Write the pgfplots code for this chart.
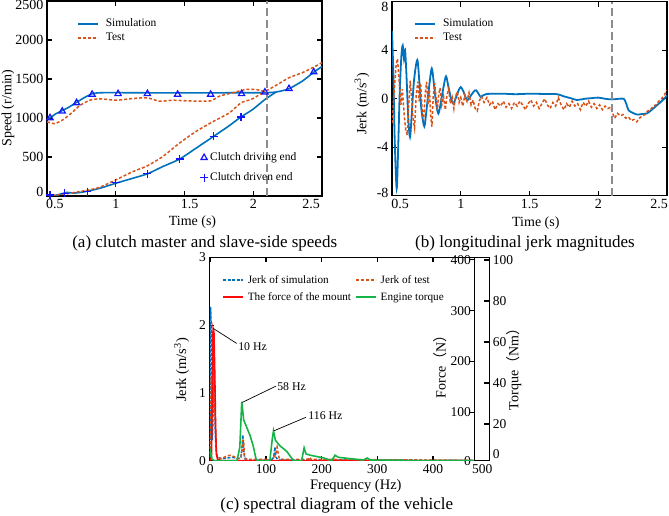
\documentclass[border=0pt]{standalone}
\usepackage{pgfplots}
\pgfplotsset{compat=1.18}
\usepackage{fontspec}
\setmainfont{Liberation Serif}
\newfontfamily\cjk{Noto Sans CJK SC}
\definecolor{mblue}{RGB}{0,114,189}
\definecolor{morange}{RGB}{217,83,25}
\definecolor{mkblue}{RGB}{20,20,255}
\definecolor{mgreen}{RGB}{20,180,70}
\definecolor{mred}{RGB}{250,10,10}
\definecolor{mgray}{RGB}{140,140,140}
\pgfplotsset{
  base/.style={scale only axis, anchor=south west,
    axis line style={line width=1.1pt}, tick style={line width=1.1pt, black},
    major tick length=5pt, tick align=inside,
    /pgf/number format/assume math mode=true,
    ticklabel style={font=\fontsize{14}{16}\selectfont},
    label style={font=\fontsize{14}{16}\selectfont}},
  sim/.style={mblue, line width=1.6pt},
  tst/.style={morange, line width=1.5pt, dash pattern=on 3pt off 2pt},
  lg/.style={legend style={draw=none, fill=none, font=\fontsize{11.5}{13}\selectfont, inner sep=0pt, row sep=1pt, nodes={inner sep=2pt},
      /tikz/every odd column/.append style={column sep=5pt}},
    legend cell align=left,
    legend image code/.code={\draw[##1] (0pt,0pt) -- (20pt,0pt);}},
}
\begin{document}
\begin{tikzpicture}[x=1pt,y=1pt]
\useasboundingbox (0,0) rectangle (669,516);
% ---------------- (a)
\begin{axis}[base, lg, at={(47pt,320pt)}, width=275pt, height=195pt,
  xmin=0.5, xmax=2.5, ymin=0, ymax=2500,
  xtick={0.5,1,1.5,2,2.5},
  xticklabels={\hspace*{16pt}0.5,1,\hspace*{10pt}1.5,2,2.5\hspace*{22pt}},
  ytick={0,500,1000,1500,2000,2500},
  yticklabels={\raisebox{4pt}[\height][\depth]{0},500,1000,1500,2000,\raisebox{-4pt}[\height][\depth]{2500}},
  xlabel={Time (s)}, ylabel={Speed (r/min)},
  xlabel style={at={(axis description cs:0.529,-0.133)}, anchor=center},
  ylabel style={at={(axis description cs:-0.142,0.451)}, anchor=center},
  legend style={at={(axis description cs:0.109,0.919)}, anchor=north west}]
\addplot[sim, smooth, tension=0.4] coordinates {(0.5,985)(0.53,1010)(0.56,1050)(0.611,1095)(0.66,1140)(0.715,1200)(0.77,1260)(0.828,1310)(0.87,1322)(0.95,1325)(1.2,1323)(1.5,1322)(1.8,1323)(2.0,1324)(2.1,1325)(2.165,1332)(2.2,1345)(2.26,1375)(2.357,1473)(2.442,1589)(2.5,1660)};
\addlegendentry{Simulation}
\addplot[tst, smooth, tension=0.4] coordinates {(0.5,950)(0.51,945)(0.558,928)(0.617,979)(0.679,1065)(0.739,1160)(0.812,1228)(0.884,1246)(1.005,1228)(1.126,1250)(1.23,1258)(1.319,1215)(1.415,1228)(1.512,1220)(1.609,1215)(1.693,1220)(1.754,1280)(1.85,1323)(1.947,1366)(2.019,1366)(2.085,1344)(2.165,1418)(2.26,1516)(2.357,1581)(2.442,1654)(2.5,1710)};
\addlegendentry{Test}
\addplot[sim, smooth, tension=0.4, forget plot] coordinates {(0.5,0)(0.55,5)(0.6,25)(0.643,45)(0.7,38)(0.75,48)(0.79,60)(0.884,99)(1.0,163)(1.125,228)(1.23,284)(1.343,378)(1.464,473)(1.585,614)(1.712,765)(1.826,902)(1.911,1014)(1.995,1108)(2.085,1237)(2.165,1332)};
\addplot[tst, smooth, tension=0.4, forget plot] coordinates {(0.5,0)(0.51,2)(0.63,26)(0.792,73)(0.884,112)(1.0,206)(1.125,313)(1.23,387)(1.343,507)(1.464,679)(1.585,829)(1.712,958)(1.826,1065)(1.911,1194)(1.995,1246)(2.085,1344)};
\addplot[mgray, line width=1.3pt, dash pattern=on 8pt off 4pt, forget plot] coordinates {(2.1,0)(2.1,2500)};
\end{axis}
\begin{axis}[base, hide axis, at={(47pt,320pt)}, width=275pt, height=195pt,
  xmin=0.5, xmax=2.5, ymin=0, ymax=2500, clip=false,
  legend style={draw=none, fill=none, font=\fontsize{11.5}{13}\selectfont, inner sep=0pt, row sep=6.5pt, nodes={inner sep=2pt}, at={(axis description cs:0.556,0.232)}, anchor=north west},
  legend cell align=left,
  legend image code/.code={\draw[mark repeat=2,mark phase=2,#1] plot coordinates {(0pt,0pt)(3pt,0pt)(6pt,0pt)};}]
\addplot[only marks, mkblue, mark=triangle, mark size=3.6pt, line width=1.2pt] coordinates {(0.522,1001)(0.611,1086)(0.715,1194)(0.828,1302)(1.017,1310)(1.23,1310)(1.45,1302)(1.69,1302)(1.915,1310)(2.085,1331)(2.26,1375)(2.44,1589)};
\addlegendentry{Clutch driving end}
\addplot[only marks, mkblue, mark=+, mark size=4pt, line width=1.2pt] coordinates {(0.522,13)(0.63,34)(0.792,55)(1.0,172)(1.23,284)(1.464,473)(1.712,765)(1.911,1014)};
\addlegendentry{Clutch driven end}
\end{axis}
% ---------------- (b)
\begin{axis}[base, lg, at={(392pt,320.2pt)}, width=275pt, height=194pt,
  xmin=0.5, xmax=2.5, ymin=-8, ymax=8,
  xtick={0.5,1,1.5,2,2.5},
  xticklabels={\hspace*{16pt}0.5,1,1.5,2,2.5\hspace*{16pt}},
  ytick={-8,-4,0,4,8},
  yticklabels={\raisebox{3pt}[\height][\depth]{-8},-4,0,4,\raisebox{-5.5pt}[\height][\depth]{8}},
  xlabel={Time (s)}, ylabel={Jerk (m/s\textsuperscript{3})},
  xlabel style={at={(axis description cs:0.523,-0.143)}, anchor=center},
  ylabel style={at={(axis description cs:-0.109,0.474)}, anchor=center},
  legend style={at={(axis description cs:0.08,0.923)}, anchor=north west}]
\addplot[sim, line width=1.8pt, smooth, tension=0.5] coordinates {(0.500,5.6)(0.510,2.0)(0.520,-3.5)(0.534,-7.4)(0.545,-4)(0.556,0.5)(0.568,3.5)(0.578,4.4)(0.587,3.3)(0.595,4.0)(0.605,2.0)(0.618,-1.5)(0.631,-3.15)(0.645,-1.0)(0.660,1.5)(0.684,3.2)(0.700,1.2)(0.715,-1.0)(0.735,-2.27)(0.750,-1.0)(0.770,1.0)(0.789,2.5)(0.805,1.2)(0.820,-0.3)(0.837,-1.22)(0.855,-0.3)(0.875,1.0)(0.893,1.85)(0.910,1.0)(0.930,0.0)(0.947,-0.4)(0.965,0.1)(0.985,0.7)(1.000,0.97)(1.020,0.6)(1.035,0.1)(1.049,-0.12)(1.070,0.2)(1.095,0.6)(1.112,0.7)(1.130,0.4)(1.146,0.15)(1.165,0.3)(1.190,0.4)(1.3,0.42)(1.4,0.38)(1.5,0.42)(1.6,0.4)(1.7,0.38)(1.75,0.2)(1.8,0.05)(1.845,-0.1)(1.9,0.0)(1.95,0.05)(2.0,0.1)(2.05,0.0)(2.1,-0.05)(2.15,0.0)(2.185,0.0)(2.2,-0.3)(2.221,-0.95)(2.25,-1.15)(2.282,-1.3)(2.32,-1.25)(2.355,-1.2)(2.4,-0.8)(2.44,-0.4)(2.48,0.0)(2.5,0.3)};
\addlegendentry{Simulation}
\addplot[tst] coordinates {(0.500,-2.0)(0.515,0.5)(0.530,2.8)(0.540,3.3)(0.552,1.5)(0.565,-0.5)(0.575,0.8)(0.590,-1.5)(0.600,-2.6)(0.611,-3.0)(0.622,-0.5)(0.632,1.5)(0.642,0.2)(0.652,-1.5)(0.664,-2.4)(0.676,0.3)(0.688,1.4)(0.698,-0.2)(0.708,1.3)(0.718,-0.8)(0.730,-1.8)(0.742,0.5)(0.752,1.4)(0.762,-0.5)(0.772,0.8)(0.782,-1.5)(0.790,-2.3)(0.800,0.2)(0.810,1.3)(0.820,0.1)(0.830,-0.9)(0.840,0.4)(0.850,0.9)(0.862,-0.5)(0.875,0.2)(0.888,-0.9)(0.900,0.3)(0.912,0.8)(0.925,-0.4)(0.938,0.1)(0.950,-0.8)(0.962,0.2)(0.975,0.6)(0.988,-0.3)(1.000,0.1)(1.015,-0.6)(1.030,0.3)(1.045,-0.2)(1.060,0.5)(1.075,-0.5)(1.090,-0.1)(1.105,-0.8)(1.120,-1.0)(1.135,-0.2)(1.150,0.2)(1.170,-0.3)(1.190,0.1)(1.210,-0.5)(1.230,-0.2)(1.250,-0.9)(1.270,-0.4)(1.290,-0.6)(1.310,-0.2)(1.330,-0.7)(1.350,-0.4)(1.370,-0.8)(1.390,-0.3)(1.410,-0.6)(1.430,-0.2)(1.450,-0.5)(1.470,-0.9)(1.490,-0.4)(1.510,-0.1)(1.530,-0.6)(1.550,-0.3)(1.570,-0.8)(1.590,-0.4)(1.610,0.0)(1.630,-0.5)(1.650,-0.8)(1.670,-0.3)(1.690,-0.6)(1.710,0.1)(1.730,-0.5)(1.750,-0.9)(1.770,-0.4)(1.790,-0.7)(1.810,-0.2)(1.830,-0.6)(1.850,-0.4)(1.870,-0.9)(1.890,-0.3)(1.910,-0.6)(1.930,-0.2)(1.950,-0.7)(1.970,-0.4)(1.990,-0.8)(2.010,-0.5)(2.030,-0.9)(2.050,-0.6)(2.070,-0.8)(2.090,-0.7)(2.105,-1.2)(2.120,-1.6)(2.140,-1.2)(2.160,-1.4)(2.180,-1.3)(2.200,-1.6)(2.220,-1.5)(2.240,-1.8)(2.260,-1.7)(2.280,-1.9)(2.300,-1.6)(2.320,-1.4)(2.340,-1.3)(2.360,-1.0)(2.380,-0.9)(2.400,-0.6)(2.420,-0.5)(2.440,-0.2)(2.460,0.0)(2.480,0.3)(2.500,0.7)};
\addlegendentry{Test}
\addplot[mgray, line width=1.3pt, dash pattern=on 8pt off 4pt, forget plot] coordinates {(2.1,-8)(2.1,8)};
\end{axis}
% ---------------- (c)
\begin{axis}[base, at={(209.3pt,55.3pt)}, width=280pt, height=203.4pt,
  xmin=0, xmax=1, xtick=\empty, ymin=2.1, ymax=101.3,
  axis line style={line width=1.3pt},
  ytick={20,40,60,80,100}, ytick pos=right, yticklabel pos=right,
  extra y ticks={5.4}, extra y tick labels={0}, extra y tick style={major tick length=0pt},
  ticklabel style={font=\fontsize{13.5}{15}\selectfont},
  ylabel={Torque{\cjk （}Nm{\cjk ）}},
  ylabel style={at={(axis description cs:1.088,0.466)}, anchor=center, font=\fontsize{14}{16}\selectfont}]
\end{axis}
\begin{axis}[base, at={(209.3pt,55.3pt)}, width=265pt, height=203.4pt,
  xmin=-1.8, xmax=474.2, ymin=5, ymax=405,
  axis x line=none, axis y line*=right,
  ytick={5,100,200,300,400}, yticklabels={0,100,200,300,400},
  ticklabel style={font=\fontsize{13.5}{15}\selectfont},
  yticklabel style={anchor=east},
  ylabel={Force{\cjk （}N{\cjk ）}},
  ylabel style={at={(axis description cs:0.872,0.48)}, anchor=center, font=\fontsize{14}{16}\selectfont}]
\end{axis}
\begin{axis}[base, lg, at={(209.3pt,55.3pt)}, width=265pt, height=203.4pt,
  xmin=-1.8, xmax=474.2, ymin=0, ymax=3,
  xtick={0,100,200,300,400,474.2},
  xticklabels={0,100,200,300,400,\hspace*{16pt}500},
  ytick={0,1,2,3}, ytick pos=left,
  ticklabel style={font=\fontsize{13.5}{15}\selectfont},
  xlabel={Frequency (Hz)}, ylabel={Jerk (m/s\textsuperscript{3})},
  label style={font=\fontsize{14.5}{16}\selectfont},
  xlabel style={at={(axis description cs:0.553,-0.1225)}, anchor=center},
  ylabel style={at={(axis description cs:-0.104,0.446)}, anchor=center},
  legend columns=2,
  legend style={font=\fontsize{11.2}{13}\selectfont, row sep=3.9pt, at={(axis description cs:0.048,0.923)}, anchor=north west,
    /tikz/every odd column/.append style={column sep=2pt},
    /tikz/every even column/.append style={column sep=2pt}}]
\addplot[mblue, line width=1.5pt, dash pattern=on 3pt off 1.6pt] coordinates {(0,0.1)(0.5,2.27)(1.5,2.0)(2.5,0.8)(3.5,0.3)(4.5,0.5)(5.5,1.0)(6.5,1.59)(7.5,1.2)(9,0.4)(10.5,0.15)(13,0.05)(20,0.03)(30,0.04)(40,0.05)(50,0.03)(55,0.05)(57,0.2)(58.5,0.38)(60,0.15)(62,0.03)(70,0.01)(110,0.01)(114,0.05)(116,0.2)(118,0.05)(122,0.01)(175,0.01)(178,0.04)(181,0.01)(474,0.005)};
\addlegendentry{Jerk of simulation}
\addplot[tst] coordinates {(0,0.1)(0.8,0.6)(1.6,1.24)(2.4,1.1)(3.2,0.6)(4,0.9)(5,1.3)(6,1.1)(7,0.7)(8,1.0)(9,0.6)(10,0.3)(11,0.1)(13,0.05)(20,0.03)(25,0.05)(30,0.07)(35,0.08)(40,0.07)(45,0.05)(50,0.03)(55,0.04)(57,0.15)(58,0.3)(60,0.3)(61,0.1)(63,0.03)(70,0.02)(110,0.02)(117,0.08)(120,0.2)(122,0.1)(124,0.03)(130,0.02)(175,0.02)(178,0.05)(181,0.02)(474,0.005)};
\addlegendentry{Jerk of test}
\addplot[mred, line width=1.6pt] coordinates {(0,0)(2,0.05)(3.5,1.0)(5,1.95)(6.5,1.9)(8,1.3)(9.5,0.5)(11,0.1)(13,0.02)(20,0)(474,0)};
\addlegendentry{The force of the mount}
\addplot[mgreen, line width=1.6pt] coordinates {(0,0.05)(0.5,0.13)(1.5,0.1)(3,0.02)(8,0)(48,0)(53,0.2)(56.5,0.87)(60,0.6)(65,0.5)(71,0.38)(77,0.22)(82,0.03)(85,0)(107,0)(111,0.3)(113.5,0.44)(117,0.3)(125,0.22)(137,0.14)(146,0.04)(149,0)(164,0)(168.5,0.19)(172,0.1)(180,0.08)(192,0.06)(204,0.04)(218,0)(224,0.08)(230,0.05)(251,0.03)(275,0.01)(282,0.04)(287,0.01)(338,0.005)(341,0.01)(347,0)(474,0)};
\addlegendentry{Engine torque}
\draw[black, line width=0.7pt] (axis cs:5.5,1.95) -- (axis cs:47.4,1.73);
\node[anchor=west, inner sep=0pt, font=\fontsize{11.8}{13}\selectfont] at (axis cs:50,1.68) {10 Hz};
\draw[black, line width=0.7pt] (axis cs:57.5,0.86) -- (axis cs:118,1.10);
\node[anchor=west, inner sep=0pt, font=\fontsize{11.8}{13}\selectfont] at (axis cs:120,1.09) {58 Hz};
\draw[black, line width=0.7pt] (axis cs:114,0.44) -- (axis cs:171.8,0.64);
\node[anchor=west, inner sep=0pt, font=\fontsize{11.8}{13}\selectfont] at (axis cs:176,0.66) {116 Hz};
\end{axis}
% captions
\node[font=\fontsize{17}{19}\selectfont] at (204.7,273) {(a) clutch master and slave-side speeds};
\node[font=\fontsize{17}{19}\selectfont] at (525,273) {(b) longitudinal jerk magnitudes};
\node[font=\fontsize{17}{19}\selectfont] at (336.7,10.3) {(c) spectral diagram of the vehicle};
\end{tikzpicture}
\end{document}
